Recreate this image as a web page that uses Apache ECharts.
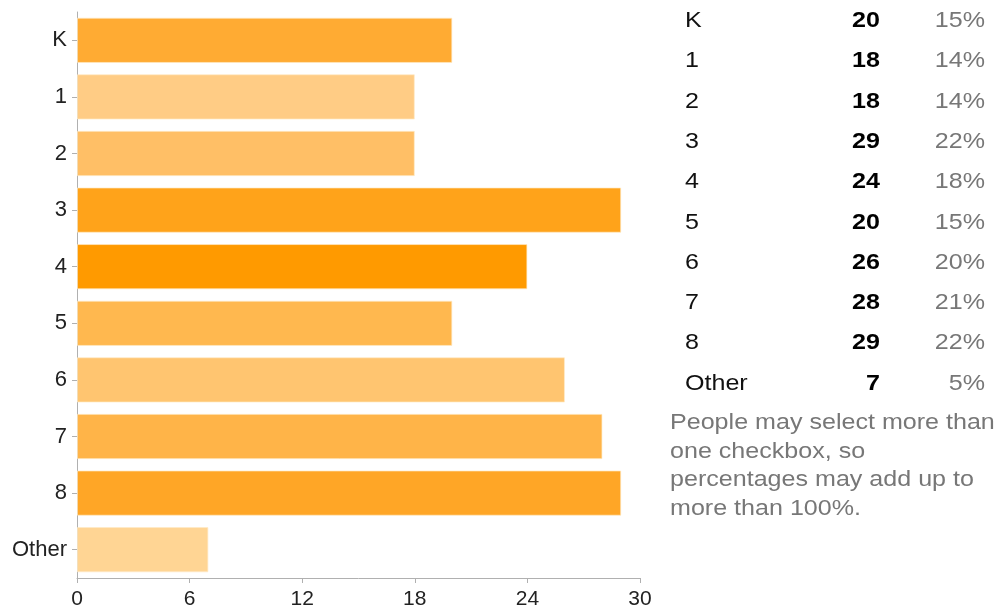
<!DOCTYPE html>
<html><head><meta charset="utf-8">
<script src="https://cdn.jsdelivr.net/npm/echarts@6/dist/echarts.min.js"></script>
<style>html,body{margin:0;padding:0;background:#fff}#c{width:997px;height:610px}</style>
</head><body><div id="c"></div>
<script>
const categories = ['K','1','2','3','4','5','6','7','8','Other'];
const counts = [20,18,18,29,24,20,26,28,29,7];
const percents = ['15%','14%','14%','22%','18%','15%','20%','21%','22%','5%'];
const barColors = ['#FFAB33','#FFCC85','#FFBF66','#FFA31A','#FF9A00','#FFB84F','#FFC570','#FFB448','#FFA626','#FFD594'];
const xTicks = [0,6,12,18,24,30];
const noteLines = ['People may select more than','one checkbox, so','percentages may add up to','more than 100%.'];

const chart = echarts.init(document.getElementById('c'));
const font = 'Liberation Sans, Arial, sans-serif';
const SX = 1.14;
const graphics = [];
categories.forEach((c,i)=>{
  const y = 21 + i*40.3;
  graphics.push({type:'text', x:685, y:y, scaleX:SX, style:{text:c, font:'22px '+font, fill:'#111', textAlign:'left', textVerticalAlign:'middle'}});
  graphics.push({type:'text', x:880, y:y, scaleX:SX, style:{text:String(counts[i]), font:'bold 22px '+font, fill:'#000', textAlign:'right', textVerticalAlign:'middle'}});
  graphics.push({type:'text', x:985, y:y, scaleX:SX, style:{text:percents[i], font:'22px '+font, fill:'#777', textAlign:'right', textVerticalAlign:'middle'}});
});
noteLines.forEach((t,i)=>{
  graphics.push({type:'text', x:670, y:423 + i*28.5, scaleX:SX, style:{text:t, font:'22px '+font, fill:'#777', textAlign:'left', textVerticalAlign:'middle'}});
});

chart.setOption({
  animation:false,
  grid:{left:77, top:12, width:563, height:567, containLabel:false},
  xAxis:{type:'value', min:xTicks[0], max:xTicks[xTicks.length-1], interval:6,
    axisLine:{show:true, lineStyle:{color:'#b0b0b0', width:1}},
    axisTick:{show:true, length:5, lineStyle:{color:'#b0b0b0'}},
    splitLine:{show:false},
    axisLabel:{color:'#222', fontSize:21, fontFamily:font, margin:11}},
  yAxis:{type:'category', data:categories, inverse:true,
    axisLine:{show:true, lineStyle:{color:'#b0b0b0', width:1}},
    axisTick:{show:true, length:5, alignWithLabel:true, lineStyle:{color:'#b0b0b0'}},
    axisLabel:{color:'#222', fontSize:22, fontFamily:font, margin:10}},
  series:[{type:'bar', barCategoryGap:'20%',
    data: counts.map((v,i)=>({value:v, itemStyle:{color:barColors[i]}})),
    itemStyle:{borderColor:'rgba(255,235,200,0.7)', borderWidth:1}}],
  graphic:graphics
});
</script></body></html>
